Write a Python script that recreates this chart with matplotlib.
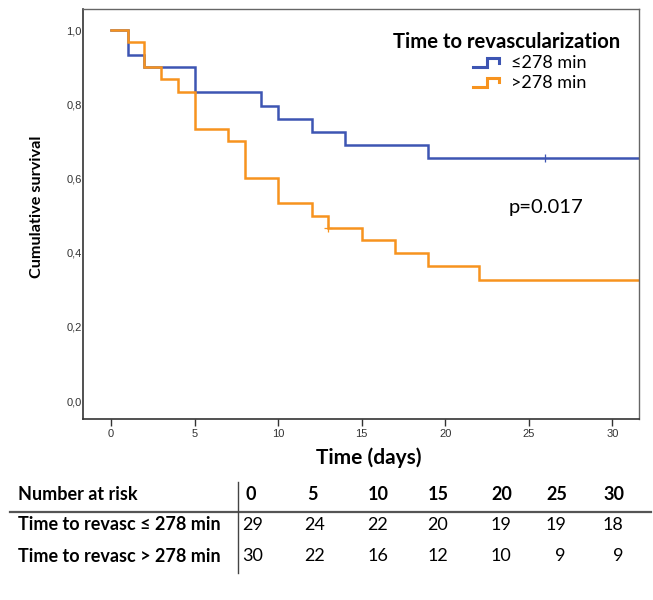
import matplotlib
matplotlib.use("Agg")
import matplotlib.pyplot as plt
from matplotlib.lines import Line2D
from matplotlib.legend_handler import HandlerBase

# ---------------- data ----------------
group_labels = ["\u2264278 min", ">278 min"]
legend_title = "Time to revascularization"

blue_times = [0, 1, 2, 5, 9, 10, 12, 14, 19]
blue_surv = [1.0, 0.933, 0.9, 0.833, 0.795, 0.760, 0.725, 0.690, 0.655]
blue_censor_t = [26]
blue_censor_s = [0.655]

orange_times = [0, 1, 2, 3, 4, 5, 7, 8, 10, 12, 13, 15, 17, 19, 22]
orange_surv = [1.0, 0.967, 0.9, 0.867, 0.833, 0.733, 0.700, 0.600, 0.533,
               0.500, 0.467, 0.433, 0.400, 0.363, 0.326]
orange_censor_t = [13]
orange_censor_s = [0.467]

follow_end = 32

x_ticks = [0, 5, 10, 15, 20, 25, 30]
y_ticks = [0.0, 0.2, 0.4, 0.6, 0.8, 1.0]
y_tick_labels = ["0,0", "0,2", "0,4", "0,6", "0,8", "1,0"]

p_text = "p=0.017"

risk_header = "Number at risk"
risk_times = ["0", "5", "10", "15", "20", "25", "30"]
risk_row_labels = ["Time to revasc \u2264 278 min", "Time to revasc > 278 min"]
risk_low = [29, 24, 22, 20, 19, 19, 18]
risk_high = [30, 22, 16, 12, 10, 9, 9]

BLUE = "#3D55B3"
ORANGE = "#F7931E"

# ---------------- figure ----------------
W, H = 653, 600
fig = plt.figure(figsize=(W / 100, H / 100), dpi=100)


def fx(x):
    return x / W


def fy(y):
    return 1 - y / H


ax_l, ax_r, ax_t, ax_b = 83, 639, 9, 419
ax = fig.add_axes([fx(ax_l), fy(ax_b), (ax_r - ax_l) / W, (ax_b - ax_t) / H])

ax.step(blue_times + [follow_end], blue_surv + [blue_surv[-1]], where="post",
        color=BLUE, lw=1.8, solid_joinstyle="miter")
ax.step(orange_times + [follow_end], orange_surv + [orange_surv[-1]], where="post",
        color=ORANGE, lw=1.8, solid_joinstyle="miter")
ax.plot(blue_censor_t, blue_censor_s, ls="none", marker="|", ms=6, mew=0.9, color=BLUE)
ax.plot(orange_censor_t, orange_censor_s, ls="none", marker="+", ms=6, mew=0.9, color=ORANGE)

ax.set_xlim(-1.68, 31.6)
ax.set_ylim(-0.0485, 1.057)
ax.set_xticks(x_ticks)
ax.set_xticklabels([str(t) for t in x_ticks], fontsize=8, color="#333333",
                   family="Liberation Sans")
ax.set_yticks(y_ticks)
ax.set_yticklabels(y_tick_labels, fontsize=8, color="#333333", family="Liberation Sans")
ax.tick_params(axis="x", direction="out", length=5, width=1, color="#333333", pad=2)
ax.tick_params(axis="y", length=0, pad=1)
for s in ["left", "bottom"]:
    ax.spines[s].set_color("#333333")
    ax.spines[s].set_linewidth(1.2)
for s in ["top", "right"]:
    ax.spines[s].set_color("#666666")
    ax.spines[s].set_linewidth(1.0)

fig.text(fx(509), fy(207), p_text, fontsize=14.6, family="Lato",
         ha="left", va="center")

fig.text(fx(37), fy(207), "Cumulative survival", rotation=90, fontsize=11.7,
         fontweight="bold", family="Lato", ha="center", va="center")
fig.text(fx(368.5), fy(458), "Time (days)", fontsize=15, fontweight="bold",
         family="Lato", ha="center", va="center")


# ---------------- legend ----------------
class StepHandler(HandlerBase):
    def create_artists(self, legend, orig_handle, xdescent, ydescent, width,
                       height, fontsize, trans):
        x0, y0 = -xdescent, -ydescent
        xs = [x0, x0 + 0.55 * width, x0 + 0.55 * width, x0 + width, x0 + width]
        ys = [y0 + 0.15 * height, y0 + 0.15 * height, y0 + 0.75 * height,
              y0 + 0.75 * height, y0 + 0.45 * height]
        ln = Line2D(xs, ys, color=orig_handle.get_color(),
                    lw=orig_handle.get_linewidth(), solid_joinstyle="miter")
        ln.set_transform(trans)
        return [ln]


h1 = Line2D([], [], color=BLUE, lw=2.2)
h2 = Line2D([], [], color=ORANGE, lw=2.2)
fig.text(fx(393), fy(42), legend_title, fontsize=14.6, fontweight="bold",
         family="Lato", ha="left", va="center")
leg = fig.legend([h1, h2], group_labels, loc="upper left",
                 bbox_to_anchor=(fx(473), fy(55)), frameon=False,
                 prop={"family": "Lato", "size": 13},
                 handler_map={Line2D: StepHandler()},
                 handlelength=1.45, handleheight=0.8, handletextpad=0.65,
                 labelspacing=0.2, borderpad=0, borderaxespad=0)

# ---------------- risk table ----------------
TS = 13
fig.text(fx(18), fy(494), risk_header, fontsize=TS, fontweight="bold",
         family="Lato", ha="left", va="center")
col_left = [245, 307, 368, 428, 491, 546, 603]
col_right = [263, 325, 388, 448, 511, 566, 623]
for xl, lab in zip(col_left, risk_times):
    fig.text(fx(xl), fy(494), lab, fontsize=TS, fontweight="bold",
             family="Lato", ha="left", va="center")
row_y = [525, 556]
for yy, lab, vals in zip(row_y, risk_row_labels, [risk_low, risk_high]):
    fig.text(fx(18), fy(yy), lab, fontsize=TS, fontweight="bold",
             family="Lato", ha="left", va="center")
    for xr, v in zip(col_right, vals):
        fig.text(fx(xr), fy(yy), str(v), fontsize=TS, family="Lato",
                 ha="right", va="center")

fig.add_artist(Line2D([fx(10), fx(651)], [fy(512), fy(512)], color="#555555", lw=1.6))
fig.add_artist(Line2D([fx(238), fx(238)], [fy(482), fy(573)], color="#444444", lw=1.0))

fig.savefig("out.png", dpi=100)
